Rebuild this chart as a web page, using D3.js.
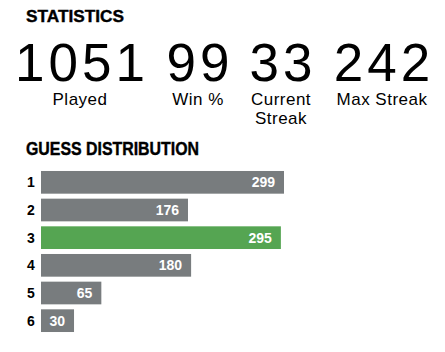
<!DOCTYPE html>
<html>
<head>
<meta charset="utf-8">
<script src="https://cdn.jsdelivr.net/npm/d3@7"></script>
<style>
  body { margin: 0; background: #fff; }
  svg { display: block; }
</style>
</head>
<body>
<div id="chart"></div>
<script>
// stats row
const statValues = [1051, 99, 33, 242];
const statLabels = [['Played'], ['Win %'], ['Current', 'Streak'], ['Max Streak']];

// guess distribution
const guesses = ['1', '2', '3', '4', '5', '6'];
const counts = [299, 176, 295, 180, 65, 30];
const highlightGuess = '3';

const width = 445, height = 352;
const colors = { bar: '#787c7e', hit: '#55a552', text: '#000' };
const bodyFont = '"Liberation Sans", Arial, sans-serif';

const svg = d3.select('#chart').append('svg')
  .attr('width', width)
  .attr('height', height);

// headers (condensed heavy look -> squeeze to measured width)
function header(txt, y, size, len) {
  svg.append('text')
    .attr('x', 26).attr('y', y)
    .attr('font-family', bodyFont)
    .attr('font-weight', 'bold')
    .attr('font-size', size)
    .attr('stroke', '#000')
    .attr('stroke-width', 0.4)
    .attr('textLength', len)
    .attr('lengthAdjust', 'spacingAndGlyphs')
    .text(txt);
}
header('STATISTICS', 22, '17px', 98);
header('GUESS DISTRIBUTION', 155, '18px', 173);

// stat columns, centred on fixed slots
const colCenters = [80, 198, 281, 382];

const cols = svg.append('g').selectAll('g')
  .data(statValues.map((v, i) => ({ value: v, label: statLabels[i], i })))
  .join('g')
  .attr('transform', d => `translate(${colCenters[d.i]},0)`);

cols.append('text')
  .attr('y', 81)
  .attr('dx', 2)
  .attr('text-anchor', 'middle')
  .attr('font-family', bodyFont)
  .attr('font-size', '53px')
  .attr('letter-spacing', '4px')
  .attr('fill', colors.text)
  .text(d => d.value);

cols.append('text')
  .attr('text-anchor', 'middle')
  .attr('font-family', bodyFont)
  .attr('font-size', '17px')
  .attr('letter-spacing', '0.5px')
  .attr('fill', colors.text)
  .selectAll('tspan')
  .data(d => d.label)
  .join('tspan')
  .attr('x', 0)
  .attr('y', (d, j) => 105 + j * 19)
  .text(d => d);

// bars
const x = d3.scaleLinear()
  .domain([0, d3.max(counts)])
  .range([9.6, 243]);

const y = d3.scaleBand()
  .domain(guesses)
  .range([168.5, 334.5])
  .paddingInner(0.18)
  .paddingOuter(0.09);

const barLeft = 41;
const rows = svg.append('g').selectAll('g')
  .data(guesses.map((g, i) => ({ guess: g, count: counts[i] })))
  .join('g')
  .attr('transform', d => `translate(0,${y(d.guess)})`);

rows.append('text')
  .attr('x', 27)
  .attr('y', y.bandwidth() / 2 + 5)
  .attr('font-family', bodyFont)
  .attr('font-weight', 'bold')
  .attr('font-size', '14px')
  .text(d => d.guess);

rows.append('rect')
  .attr('x', barLeft)
  .attr('width', d => x(d.count))
  .attr('height', y.bandwidth())
  .attr('fill', d => d.guess === highlightGuess ? colors.hit : colors.bar);

rows.append('text')
  .attr('x', d => barLeft + x(d.count) - 9)
  .attr('y', y.bandwidth() / 2 + 5)
  .attr('text-anchor', 'end')
  .attr('font-family', bodyFont)
  .attr('font-weight', 'bold')
  .attr('font-size', '14px')
  .attr('fill', '#fff')
  .text(d => d.count);
</script>
</body>
</html>
